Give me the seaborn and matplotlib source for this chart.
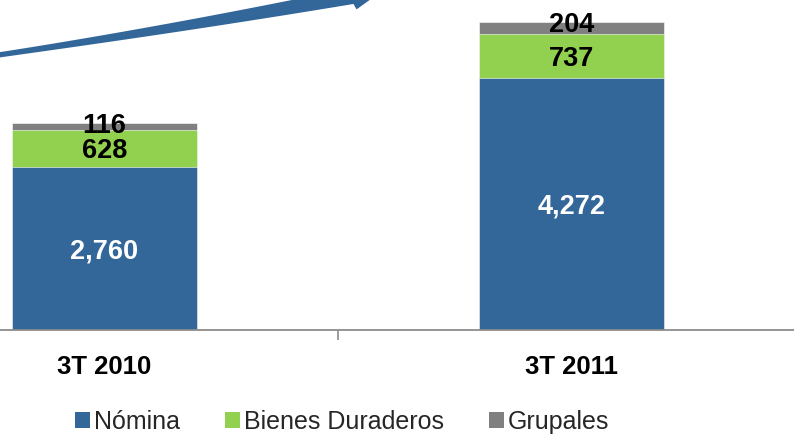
import numpy as np
import pandas as pd
import matplotlib
matplotlib.use("Agg")
import matplotlib.pyplot as plt
from matplotlib.patches import Patch, Polygon
import seaborn as sns

categories = ["3T 2010", "3T 2011"]
nomina = [2760, 4272]
bienes = [628, 737]
grupales = [116, 204]
series_names = ["Nómina", "Bienes Duraderos", "Grupales"]
colors = ["#336699", "#92D050", "#808080"]

sns.set_theme(style="white")
plt.rcParams["font.family"] = ["Liberation Sans", "DejaVu Sans"]

W, H = 794, 437
fig = plt.figure(figsize=(W / 100, H / 100), dpi=100)
ax = fig.add_axes([-129 / W, (H - 330) / H, 934 / W, 330 / H])

df = pd.DataFrame({"cat": categories, "n": nomina, "b": bienes, "g": grupales})
df["nb"] = df["n"] + df["b"]
df["nbg"] = df["nb"] + df["g"]

bw = 0.396
for col, c in [("nbg", colors[2]), ("nb", colors[1]), ("n", colors[0])]:
    sns.barplot(data=df, x="cat", y=col, color=c, width=bw, ax=ax,
                edgecolor="white", linewidth=0.4, saturation=1)

ax.set_xlim(-0.5, 1.5)
ax.set_ylim(0, 5585)
ax.set_ylabel("")
ax.set_xlabel("")
ax.set_yticks([])
for s in ["left", "right", "top"]:
    ax.spines[s].set_visible(False)
ax.spines["bottom"].set_color("#8c8c8c")
ax.spines["bottom"].set_linewidth(1.3)
ax.set_xticks([0, 1])
ax.set_xticklabels(categories, fontsize=18.5, fontweight="bold", color="black")
ax.tick_params(axis="x", which="major", length=0, pad=18)
ax.set_xticks([0.5], minor=True)
ax.tick_params(axis="x", which="minor", length=7, width=1.2, color="#8c8c8c",
               direction="out", bottom=True)

for i in range(len(categories)):
    n, b, g = nomina[i], bienes[i], grupales[i]
    ax.text(i, n / 2, f"{n:,}", ha="center", va="center_baseline", color="white",
            fontsize=19.5, fontweight="bold")
    ax.text(i, n + b / 2, f"{b:,}", ha="center", va="center_baseline", color="black",
            fontsize=19.5, fontweight="bold")
    ax.text(i, n + b + g, f"{g:,}", ha="center", va="center_baseline", color="black",
            fontsize=19.5, fontweight="bold")

# decorative growth arrow (figure pixel coordinates, y measured from top)
def px(x, y):
    return (x / W, 1 - y / H)

P0 = np.array([-5.0, 55.5]); P1 = np.array([176.5, 28.8]); P2 = np.array([352.0, -4.0])
t = np.linspace(0, 1, 60)
pts = ((1 - t)[:, None] ** 2) * P0 + (2 * (1 - t) * t)[:, None] * P1 + (t[:, None] ** 2) * P2
der = 2 * (1 - t)[:, None] * (P1 - P0) + 2 * t[:, None] * (P2 - P1)
tan = der / np.linalg.norm(der, axis=1)[:, None]
nor = np.stack([tan[:, 1], -tan[:, 0]], axis=1)
hw = 2.6 + 5.5 * t ** 1.3
upper = pts + nor * hw[:, None]
lower = pts - nor * hw[:, None]
tend = tan[-1]; nend = nor[-1]
barb_lo = P2 - nend * 14 + tend * 2
barb_hi = P2 + nend * 14 + tend * 2
tip = P2 + tend * 32
poly = list(upper) + [barb_hi, tip, barb_lo] + list(lower[::-1])
poly = [px(x, y) for x, y in poly]
fig.patches.append(Polygon(poly, closed=True, transform=fig.transFigure,
                           facecolor=colors[0], edgecolor="none"))

handles = [Patch(facecolor=c, edgecolor="none") for c in colors]
fig.legend(handles, series_names, loc="center", bbox_to_anchor=(0.431, 15 / H),
           ncol=3, frameon=False, fontsize=18, handlelength=0.6, handleheight=0.6,
           handletextpad=0.15, columnspacing=1.8, borderaxespad=0, borderpad=0)

fig.savefig("out.png", dpi=100)
